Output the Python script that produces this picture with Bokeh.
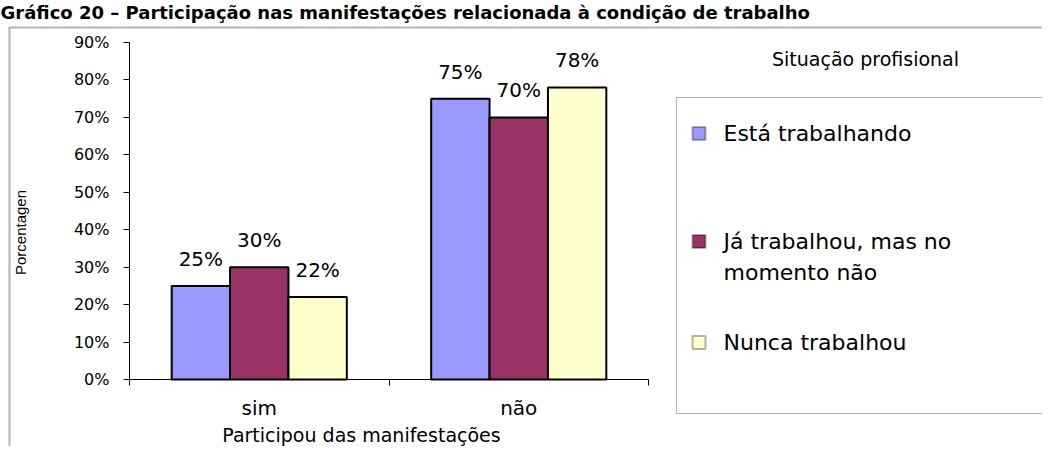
import math
from bokeh.plotting import figure
from bokeh.models import (Range1d, FixedTicker, NumeralTickFormatter, Label, PolyAnnotation,
                          ColumnDataSource, LinearAxis)
from bokeh.core.properties import value
from bokeh.embed import file_html
from bokeh.resources import INLINE

# ---------------- data ----------------
categories = ["sim", "não"]
series_names = ["Está trabalhando", "Já trabalhou, mas no momento não", "Nunca trabalhou"]
esta_trabalhando = [0.25, 0.75]
ja_trabalhou = [0.30, 0.70]
nunca_trabalhou = [0.22, 0.78]
y_ticks = [0.0, 0.1, 0.2, 0.3, 0.4, 0.5, 0.6, 0.7, 0.8, 0.9]
title_text = "Gráfico 20 – Participação nas manifestações relacionada à condição de trabalho"
x_title = "Participou das manifestações"
y_title = "Porcentagen"
legend_title = "Situação profisional"

series_values = [esta_trabalhando, ja_trabalhou, nunca_trabalhou]
colors = ["#9999FF", "#993366", "#FFFFCC"]

# ---------------- layout (canvas pixels) ----------------
W, H = 1042, 446
FL, FR, FT, FB = 129, 648, 42, 379          # plot-area box of the chart
X0, X1, Y0, Y1 = 0.0, float(len(categories)), 0.0, 0.9

def dx(px):
    return X0 + (px - FL) * (X1 - X0) / (FR - FL)

def dy(py):
    return Y0 + (FB - py) * (Y1 - Y0) / (FB - FT)

FONT = "DejaVu Sans"

p = figure(width=W, height=H,
           x_range=Range1d(dx(0), dx(W)), y_range=Range1d(dy(H), dy(0)),
           output_backend="svg", toolbar_location=None,
           x_axis_location=None, y_axis_location=None,
           min_border_left=0, min_border_right=0, min_border_top=0, min_border_bottom=0)
p.title.visible = False
p.xgrid.visible = False
p.ygrid.visible = False
p.outline_line_color = None
p.background_fill_color = "white"
p.border_fill_color = "white"

# y axis
yaxis = LinearAxis(fixed_location=X0, bounds=(Y0, Y1))
yaxis.ticker = FixedTicker(ticks=y_ticks, minor_ticks=[])
yaxis.formatter = NumeralTickFormatter(format="0%")
yaxis.major_tick_out = 6
yaxis.major_tick_in = 0
yaxis.minor_tick_out = 0
yaxis.minor_tick_in = 0
yaxis.axis_line_color = "black"
yaxis.major_tick_line_color = "black"
yaxis.major_label_text_font = FONT
yaxis.major_label_text_font_size = "16px"
yaxis.major_label_text_color = "black"
yaxis.major_label_standoff = 14
p.add_layout(yaxis, "left")

# x axis: labels at category centres, ticks at category boundaries
centers = [i + 0.5 for i in range(len(categories))]
bounds = [float(i) for i in range(len(categories) + 1)]
xaxis = LinearAxis(fixed_location=Y0, bounds=(X0, X1))
xaxis.ticker = FixedTicker(ticks=centers, minor_ticks=bounds)
xaxis.major_label_overrides = {c: name for c, name in zip(centers, categories)}
xaxis.major_tick_out = 0
xaxis.major_tick_in = 0
xaxis.minor_tick_out = 6
xaxis.minor_tick_in = 0
xaxis.minor_tick_line_color = "black"
xaxis.axis_line_color = "black"
xaxis.major_label_text_font = FONT
xaxis.major_label_text_font_size = "20px"
xaxis.major_label_text_color = "black"
xaxis.major_label_standoff = 10
p.add_layout(xaxis, "below")

# bars
bw = 0.225
offsets = [-bw, 0.0, bw]
for vals, col, off in zip(series_values, colors, offsets):
    xs = [c + off for c in centers]
    src = ColumnDataSource(dict(x=xs, top=vals, lab=[f"{round(v * 100)}%" for v in vals]))
    p.vbar(x="x", top="top", width=bw, source=src, fill_color=col,
           line_color="black", line_width=2)
    p.text(x="x", y="top", text="lab", source=src, text_align="center",
           text_baseline="middle", y_offset=-27, text_font=value(FONT),
           text_font_size="20px", text_color="black")

# axis titles
p.add_layout(Label(x=dx(361), y=dy(434), text=x_title, text_align="center",
                   text_baseline="middle", text_font=FONT,
                   text_font_size="19px", text_color="black"))
p.add_layout(Label(x=dx(20), y=dy(232), text=y_title, text_align="center",
                   text_baseline="middle", angle=math.pi / 2,
                   text_font="Liberation Sans", text_font_size="15px",
                   text_color="black"))

# title
p.add_layout(Label(x=dx(0), y=dy(12), text=title_text, text_align="left",
                   text_baseline="middle", text_font=FONT,
                   text_font_style="bold", text_font_size="18px",
                   text_color="black"))

# outer chart border
p.add_layout(PolyAnnotation(xs=[dx(9), dx(1300), dx(1300), dx(9)],
                            ys=[dy(700), dy(700), dy(27), dy(27)],
                            fill_color=None, fill_alpha=0, line_color="black", line_width=2))

# legend
p.add_layout(Label(x=dx(865), y=dy(58), text=legend_title, text_align="center",
                   text_baseline="middle", text_font=FONT,
                   text_font_size="19px", text_color="black"))
p.add_layout(PolyAnnotation(xs=[dx(676), dx(1300), dx(1300), dx(676)],
                            ys=[dy(413), dy(413), dy(97), dy(97)],
                            fill_color=None, fill_alpha=0, line_color="black", line_width=1))
entry_y = [[133], [241, 272], [342]]
entry_lines = [[series_names[0]], ["Já trabalhou, mas no", "momento não"], [series_names[2]]]
for ys, lines, col in zip(entry_y, entry_lines, colors):
    cy = ys[0]
    p.add_layout(PolyAnnotation(xs=[dx(692), dx(705), dx(705), dx(692)],
                                ys=[dy(cy + 6.5), dy(cy + 6.5), dy(cy - 6.5), dy(cy - 6.5)],
                                fill_color=col, fill_alpha=1.0,
                                line_color="black", line_width=2))
    for yy, t in zip(ys, lines):
        p.add_layout(Label(x=dx(723), y=dy(yy), text=t, text_align="left",
                           text_baseline="middle", text_font=FONT,
                           text_font_size="22px", text_color="black"))

open("out.html", "w").write(file_html(p, INLINE))
